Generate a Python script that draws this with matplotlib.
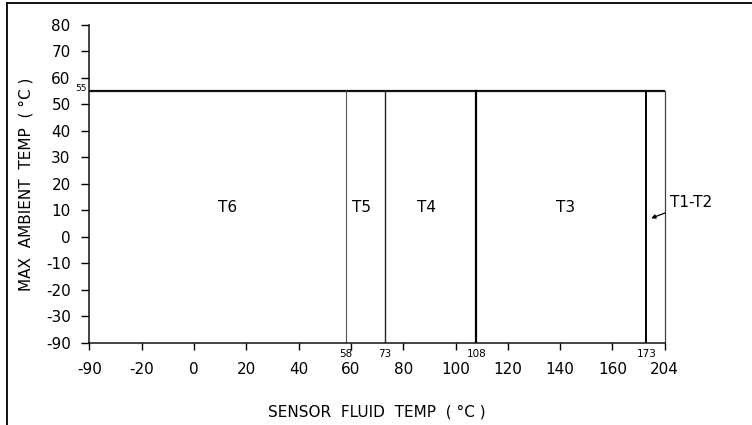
import numpy as np
import matplotlib
matplotlib.use("Agg")
import matplotlib.pyplot as plt
from matplotlib.lines import Line2D

plt.rcParams['font.family'] = ['DejaVu Sans']
plt.rcParams['axes.unicode_minus'] = False

# data
x_ticks = [-90, -20, 0, 20, 40, 60, 80, 100, 120, 140, 160, 204]
y_ticks = [80, 70, 60, 50, 40, 30, 20, 10, 0, -10, -20, -30, -90]
max_ambient = 55
class_limits = [58, 73, 108, 173]
x_max = 204
zone_names = ["T6", "T5", "T4", "T3"]
zone_x = [13, 64, 89, 142]
zone_y = 11
t12_label = "T1-T2"
t12_point = (181, 7)

# broken axes: compressed spans at the ends
x_real = [-90, -20, 0, 173, 204]
x_virt = [-40, -20, 0, 173, 180]
y_real = [-90, -30, 80]
y_virt = [-40, -30, 80]


def fx(v):
    return np.interp(v, x_real, x_virt)


def ix(v):
    return np.interp(v, x_virt, x_real)


def fy(v):
    return np.interp(v, y_real, y_virt)


def iy(v):
    return np.interp(v, y_virt, y_real)


fig = plt.figure(figsize=(7.52, 4.25), dpi=100)
ax = fig.add_axes([89.4 / 752, 1 - 342.7 / 425, 575.3 / 752, 317.7 / 425])
ax.set_xscale('function', functions=(fx, ix))
ax.set_yscale('function', functions=(fy, iy))
ax.set_xlim(-90, x_max)
ax.set_ylim(-90, 80)

for s in ['top', 'right']:
    ax.spines[s].set_visible(False)
for s in ['left', 'bottom']:
    ax.spines[s].set_linewidth(1.1)
    ax.spines[s].set_color('#111111')

ax.set_xticks(x_ticks)
ax.set_xticklabels([str(t) for t in x_ticks])
ax.set_yticks(y_ticks)
ax.set_yticklabels([str(t) for t in y_ticks])
ax.minorticks_off()
ax.tick_params(axis='x', direction='out', length=5, width=1, pad=9, labelsize=11)
ax.tick_params(axis='y', direction='out', length=5.5, width=1, pad=8, labelsize=11)

# ambient limit and class boundaries
ax.plot([-90, x_max], [max_ambient, max_ambient], color='#111111', lw=1.6)
widths = [0.8, 1.0, 1.6, 1.4]
colors = ['#555555', '#222222', '#000000', '#000000']
for xv, w, c in zip(class_limits, widths, colors):
    ax.plot([xv, xv], [-90, max_ambient], color=c, lw=w)
ax.plot([x_max, x_max], [-90, max_ambient], color='#444444', lw=0.9,
        clip_on=False)

xtr = ax.get_xaxis_transform()
for xv in class_limits:
    ax.text(xv, -0.035, str(xv), transform=xtr, ha='center', va='center',
            fontsize=7.5)
ytr = ax.get_yaxis_transform()
ax.text(-0.005, max_ambient + 1, str(max_ambient), transform=ytr,
        ha='right', va='center', fontsize=6.5)

for name, xv in zip(zone_names, zone_x):
    ax.text(xv, zone_y, name, ha='center', va='center', fontsize=11)

ax.annotate(t12_label, xy=t12_point, xytext=(29, 11), textcoords='offset points',
            ha='center', va='center', fontsize=11, annotation_clip=False,
            arrowprops=dict(arrowstyle='-|>', color='black', lw=0.9,
                            mutation_scale=6, shrinkA=2, shrinkB=0))

ax.set_xlabel("SENSOR  FLUID  TEMP  ( °C )", fontsize=11, labelpad=20)
ax.set_ylabel("MAX  AMBIENT  TEMP  ( °C )", fontsize=11, labelpad=9)

# drawing frame
fig.add_artist(Line2D([7 / 752, 7 / 752], [0, 1 - 3 / 425], color='black', lw=1.3))
fig.add_artist(Line2D([7 / 752, 1], [1 - 3 / 425, 1 - 3 / 425], color='black', lw=1.3))

fig.savefig("out.png", dpi=100)
